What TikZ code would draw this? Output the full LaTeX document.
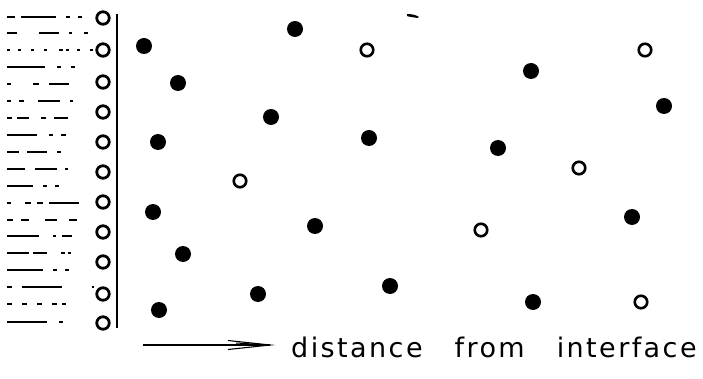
\documentclass[tikz,border=0pt]{standalone}
\usepackage{fontspec}
\newfontfamily\labelfont[LetterSpace=9]{DejaVu Sans}
\begin{document}
\begin{tikzpicture}[x=1pt,y=-1pt,
  filled/.style={circle,fill=black,inner sep=0pt,minimum size=16pt},
  hollow/.style={circle,draw=black,line width=2.6pt,inner sep=0pt,minimum size=12.5pt},
  wallo/.style={circle,draw=black,line width=2.8pt,inner sep=0pt,minimum size=12.5pt},
  hatchline/.style={line width=1.3pt},
  wallline/.style={line width=2.6pt},
  arrowline/.style={line width=1.4pt}]
\useasboundingbox (0,0) rectangle (703,379);
% interface wall
\coordinate (wtop) at (117,14);
\coordinate (wbot) at (117,328);
\draw[wallline] (wtop) -- (wbot);
% hatched liquid region
\foreach \y/\pat in {
  17/{on 8pt off 6pt on 35pt off 10pt on 4pt off 8pt on 4pt off 20pt},
  33/{on 10pt off 22pt on 20pt off 10pt on 3pt off 12pt on 4pt off 30pt},
  50/{on 3pt off 8pt on 3pt off 10pt on 3pt off 10pt on 3pt off 12pt on 4pt off 3pt},
  67/{on 38pt off 12pt on 4pt off 10pt on 4pt off 20pt},
  84/{on 4pt off 22pt on 6pt off 10pt on 20pt off 30pt},
  101/{on 4pt off 8pt on 5pt off 14pt on 22pt off 10pt on 3pt off 30pt},
  118/{on 5pt off 5pt on 12pt off 12pt on 5pt off 8pt on 14pt off 40pt},
  135/{on 30pt off 12pt on 4pt off 8pt on 5pt off 40pt},
  152/{on 12pt off 8pt on 20pt off 10pt on 4pt off 40pt},
  169/{on 18pt off 10pt on 22pt off 8pt on 3pt off 40pt},
  186/{on 26pt off 10pt on 4pt off 8pt on 4pt off 40pt},
  203/{on 4pt off 14pt on 6pt off 6pt on 6pt off 6pt on 30pt off 30pt},
  220/{on 6pt off 8pt on 8pt off 16pt on 12pt off 12pt on 8pt off 30pt},
  236/{on 32pt off 14pt on 3pt off 6pt on 10pt off 30pt},
  253/{on 22pt off 4pt on 14pt off 14pt on 4pt off 3pt on 3pt off 30pt},
  270/{on 36pt off 10pt on 4pt off 8pt on 4pt off 30pt},
  287/{on 5pt off 10pt on 40pt off 30pt},
  304/{on 5pt off 10pt on 5pt off 10pt on 5pt off 10pt on 5pt off 5pt on 4pt off 30pt},
  322/{on 40pt off 12pt on 4pt off 40pt}}{
  \draw[hatchline,dash pattern/.expanded=\pat] (7,\y) -- (94,\y);
}
% molecules at the wall
\foreach \i/\y in {1/18,2/50,3/82,4/112,5/142,6/172,7/202,8/232,9/262,10/294,11/323}{
  \node[wallo] (w\i) at (103,\y) {};
}
% filled molecules
\foreach \i/\x/\y in {1/144/46,2/295/29,3/178/83,4/531/71,5/664/106,6/271/117,7/158/142,
  8/369/138,9/498/148,10/153/212,11/315/226,12/632/217,13/183/254,14/258/294,
  15/390/286,16/533/302,17/159/310}{
  \node[filled] (f\i) at (\x,\y) {};
}
% open molecules
\foreach \i/\x/\y in {1/367/50,2/645/50,3/240/181,4/579/168,5/481/230,6/641/302}{
  \node[hollow] (o\i) at (\x,\y) {};
}
% small speck
\fill (407,14) .. controls (412,14) and (416,15) .. (419,17) -- (417,18) .. controls (413,17) and (409,17) .. (407,16) -- cycle;
% arrow
\coordinate (as) at (143,345);
\coordinate (ae) at (270,345);
\draw[arrowline] (as) -- (ae);
\draw[line width=1.1pt,line join=miter] (228,340.5) -- (ae) -- (228,349.5);
\draw[line width=1pt] (236,343) -- (ae);
\node[anchor=base west,inner sep=0pt,font=\labelfont\fontsize{27}{27}\selectfont] (lbl) at (291,357) {distance\hspace{32pt}from\hspace{32pt}interface};
\end{tikzpicture}
\end{document}
